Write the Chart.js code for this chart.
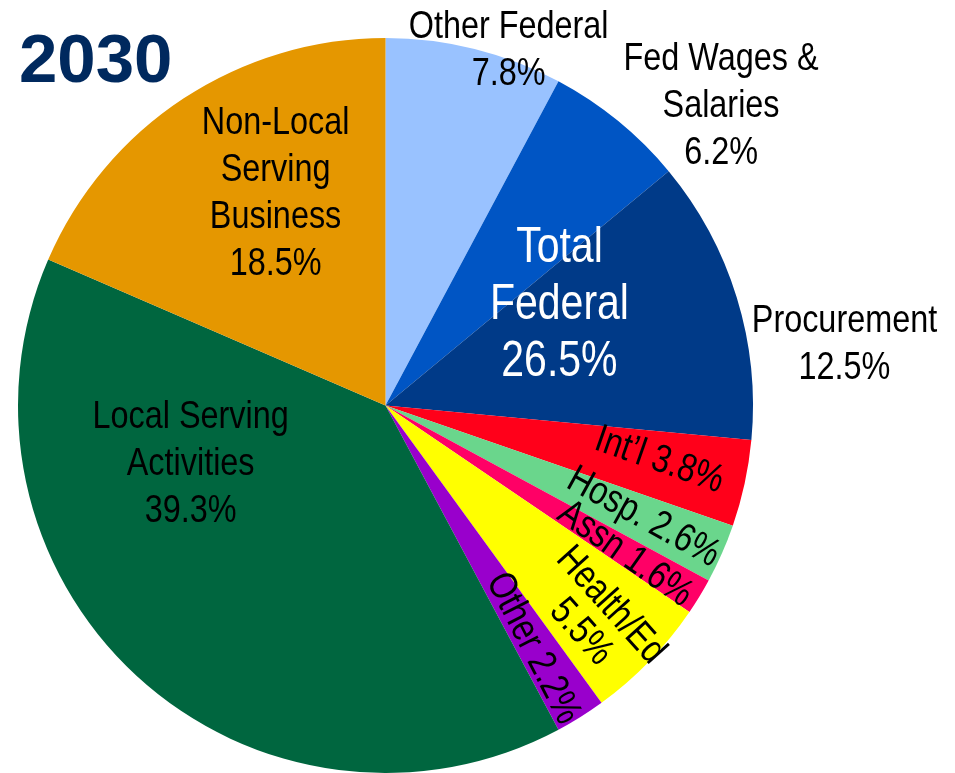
<!DOCTYPE html>
<html>
<head>
<meta charset="utf-8">
<script src="https://cdn.jsdelivr.net/npm/chart.js@4.4.1/dist/chart.umd.min.js"></script>
<style>
  html, body { margin: 0; background: #fff; }
  #wrap { position: relative; width: 955px; height: 773px; }
</style>
</head>
<body>
<div id="wrap"><canvas id="pie" width="955" height="773"></canvas></div>
<script>
// -----------------------------
// Data
// -----------------------------
const yearLabel = "2030";
const categories = ["Other Federal", "Fed Wages & Salaries", "Procurement", "Int'l", "Hosp.",
                    "Assn", "Health/Ed", "Other", "Local Serving Activities", "Non-Local Serving Business"];
const shares = [7.8, 6.2, 12.5, 3.8, 2.6, 1.6, 5.5, 2.2, 39.3, 18.5];
const labelNames = [["Other Federal"], ["Fed Wages &", "Salaries"], ["Procurement"], ["Int’l"], ["Hosp."],
                    ["Assn"], ["Health/Ed"], ["Other"], ["Local Serving", "Activities"], ["Non-Local", "Serving", "Business"]];
const federalGroup = [0, 1, 2];   // slices summed into "Total Federal"

const sliceColors = ["#99c2ff", "#0055c4", "#003a88", "#ff001a", "#6ad68c",
                     "#ff0066", "#ffff00", "#9900cc", "#00663f", "#e59700"];

// label placement: r = fraction of radius, da = degrees off the slice middle,
// rot = extra text rotation past the radial (null = horizontal), inline = % on same line
const labelPlace = [
  { r: 1.022, da: 5.1,  rot: null },
  { r: 1.224, da: 9.0,  rot: null },
  { r: 1.26,  da: 9.5,  rot: null },
  { r: 0.76,  da: -0.9, rot: 7,  inline: true },
  { r: 0.765, da: -0.3, rot: 5,  inline: true },
  { r: 0.767, da: 0.5,  rot: 4,  inline: true },
  { r: 0.815, da: 1.3,  rot: 4,  lh: 40 },
  { r: 0.773, da: 0.8,  rot: 5,  inline: true },
  { r: 0.554, da: 30.5, rot: null },
  { r: 0.65,  da: 5.9,  rot: null }
];

const FONT = '"Liberation Sans", Arial, sans-serif';

function drawLines(ctx, lines, x, y, rot, size, lh, color) {
  ctx.save();
  ctx.translate(x, y);
  ctx.rotate(rot);
  ctx.scale(0.82, 1);   // narrow face
  ctx.font = size + "px " + FONT;
  ctx.fillStyle = color;
  ctx.textAlign = "center";
  ctx.textBaseline = "middle";
  lines.forEach((line, i) => {
    ctx.fillText(line, 0, (i - (lines.length - 1) / 2) * lh);
  });
  ctx.restore();
}

// -----------------------------
// Slice labels + title
// -----------------------------
const pieLabels = {
  id: "pieLabels",
  afterDatasetsDraw(chart) {
    const ctx = chart.ctx;
    const arcs = chart.getDatasetMeta(0).data;
    const cx = arcs[0].x, cy = arcs[0].y, R = arcs[0].outerRadius;
    const deg = Math.PI / 180;

    arcs.forEach((arc, i) => {
      const p = labelPlace[i];
      const mid = (arc.startAngle + arc.endAngle) / 2 + p.da * deg;
      const x = cx + Math.cos(mid) * R * p.r;
      const y = cy + Math.sin(mid) * R * p.r;
      const pct = shares[i].toFixed(1) + "%";
      let lines = labelNames[i].slice();
      if (p.inline) lines[lines.length - 1] += " " + pct;
      else lines.push(pct);
      const rot = p.rot === null ? 0 : mid - p.da * deg + p.rot * deg;
      drawLines(ctx, lines, x, y, rot, 39.5, p.lh || 47, "#000");
    });

    // Total Federal over the federal slices
    const first = arcs[federalGroup[0]], last = arcs[federalGroup[federalGroup.length - 1]];
    const gMid = (first.startAngle + last.endAngle) / 2 + 12.4 * deg;
    const total = federalGroup.reduce((s, k) => s + shares[k], 0);
    drawLines(ctx, ["Total", "Federal", total.toFixed(1) + "%"],
      cx + Math.cos(gMid) * R * 0.546, cy + Math.sin(gMid) * R * 0.546, 0, 50, 57, "#fff");

    // year heading
    ctx.save();
    ctx.font = "bold 69px " + FONT;
    ctx.fillStyle = "#00295e";
    ctx.textAlign = "left";
    ctx.textBaseline = "alphabetic";
    ctx.fillText(yearLabel, 19, 82);
    ctx.restore();
  }
};

new Chart(document.getElementById("pie"), {
  type: "pie",
  data: {
    labels: categories,
    datasets: [{
      data: shares,
      backgroundColor: sliceColors,
      borderWidth: 0
    }]
  },
  options: {
    responsive: false,
    maintainAspectRatio: false,
    animation: false,
    layout: { padding: { top: 38, left: 18, right: 202, bottom: 0 } },
    plugins: {
      legend: { display: false },
      tooltip: { enabled: false }
    }
  },
  plugins: [pieLabels]
});
</script>
</body>
</html>
